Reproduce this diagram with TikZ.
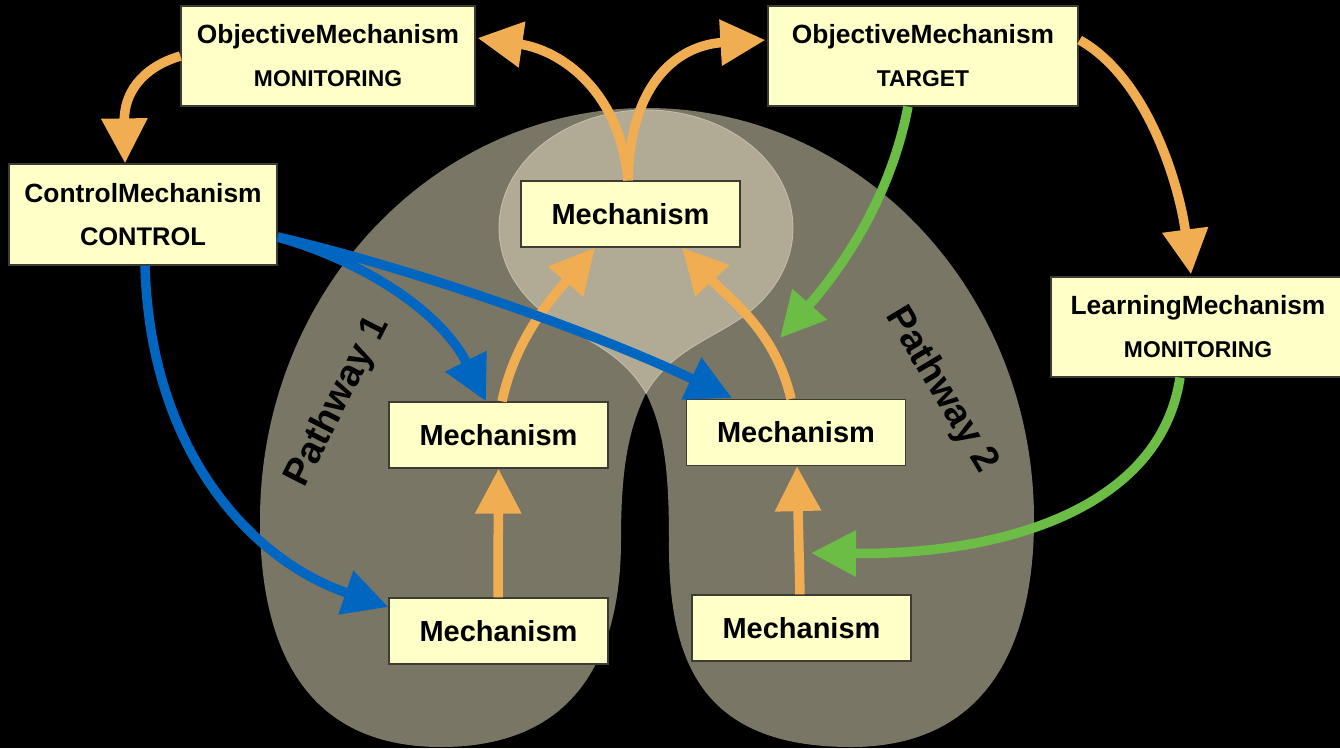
\documentclass[tikz,border=0pt]{standalone}
\usepackage{fontspec}
\setmainfont{Liberation Sans}
\usetikzlibrary{arrows.meta}
\definecolor{bgdark}{RGB}{122,118,102}
\definecolor{bglight}{RGB}{177,171,149}
\definecolor{bgedge}{RGB}{196,190,168}
\definecolor{boxfill}{RGB}{255,255,200}
\definecolor{boxline}{RGB}{60,60,50}
\definecolor{orangearr}{RGB}{240,173,82}
\definecolor{bluearr}{RGB}{0,102,192}
\definecolor{greenarr}{RGB}{108,189,69}
\begin{document}
\begin{tikzpicture}[x=0.02cm,y=0.02cm,
  mbox/.style={draw=boxline, line width=0.7pt, fill=boxfill, minimum width=4.38cm, minimum height=1.32cm, inner sep=0pt, font=\fontsize{16.5}{20}\selectfont\bfseries},
  tbox/.style={draw=boxline, line width=0.7pt, fill=boxfill, minimum height=2cm, inner sep=0pt, align=center, font=\fontsize{15}{24.5}\selectfont\bfseries},
  flow/.style={line width=0.19cm, -{Triangle[length=0.9cm,width=0.88cm]}},
  orangeflow/.style={flow, draw=orangearr},
  blueflow/.style={flow, draw=bluearr},
  greenflow/.style={flow, draw=greenarr},
  pathlabel/.style={font=\fontsize{21.5}{26}\selectfont\bfseries, text=black}]
\useasboundingbox (0,0) rectangle (1340,-748);
\clip (0,0) rectangle (1340,-748);
\fill[black] (0,0) rectangle (1340,-748);

% horseshoe
\fill[bgdark] (646,-393) .. controls (628,-430) and (621,-470) .. (621,-540)
  .. controls (621,-650) and (580,-747) .. (441,-747)
  .. controls (300,-747) and (260,-640) .. (260,-520)
  arc[start angle=180,end angle=0,x radius=387,y radius=412]
  .. controls (1034,-640) and (990,-747) .. (851,-747)
  .. controls (700,-747) and (668,-660) .. (669,-540)
  .. controls (669,-470) and (664,-430) .. (646,-393) -- cycle;
% light top region
\fill[bglight, draw=bgedge, line width=0.5pt] (646,-393) .. controls (622,-352) and (585,-340) .. (551.5,-318.4)
  arc[start angle=230,end angle=-50,x radius=147,y radius=118]
  .. controls (707,-341) and (670,-352) .. (646,-393) -- cycle;

% boxes
\node[tbox, minimum width=5.88cm] (objmon) at (328,-56) {ObjectiveMechanism\\{\fontsize{13}{24.5}\selectfont MONITORING}};
\node[tbox, minimum width=5.36cm, minimum height=2.02cm] (ctrl) at (143,-214.5) {ControlMechanism\\{\fontsize{14.5}{24.5}\selectfont CONTROL}};
\node[tbox, minimum width=6.2cm] (objtgt) at (923,-56) {ObjectiveMechanism\\{\fontsize{13}{24.5}\selectfont TARGET}};
\node[tbox, minimum width=5.88cm] (learn) at (1198,-327) {LearningMechanism\\{\fontsize{13}{24.5}\selectfont MONITORING}};

\node[mbox] (mtop) at (630.5,-214) {Mechanism};
\node[mbox] (mml) at (498.5,-435) {Mechanism};
\node[mbox] (mmr) at (796,-432.5) {Mechanism};
\node[mbox] (mbl) at (498.5,-631) {Mechanism};
\node[mbox] (mbr) at (801.5,-628) {Mechanism};

% pathway labels
\node[pathlabel, rotate=63] (p1) at (338,-402) {Pathway 1};
\node[pathlabel, rotate=-59] (p2) at (941,-390) {Pathway 2};

% free ends
\coordinate (gtip) at (780,-338);
\coordinate (ltip) at (811,-553);

% orange arrows
\draw[orangeflow] (objmon.west) .. controls (140,-68) and (124,-95) .. ([shift={(-18,0)}]ctrl.north);
\draw[orangeflow] ([shift={(-2.5,0)}]mtop.north) .. controls (620,-90) and (560,-50) .. ([shift={(2,18)}]objmon.east);
\draw[orangeflow] ([shift={(-2.5,0)}]mtop.north) .. controls (630,-80) and (680,-45) .. ([shift={(-2,16)}]objtgt.west);
\draw[orangeflow] ([shift={(1,16)}]objtgt.east) .. controls (1150,-80) and (1180,-190) .. ([shift={(-7,2)}]learn.north);
\draw[orangeflow] ([shift={(3.5,0)}]mml.north) .. controls (515,-340) and (550,-300) .. ([shift={(-35.5,0)}]mtop.south);
\draw[orangeflow] ([shift={(-5,0)}]mmr.north) .. controls (775,-330) and (730,-300) .. ([shift={(51.5,0)}]mtop.south);
\draw[orangeflow] ([shift={(-0.5,0)}]mbl.north) -- (mml.south);
\draw[orangeflow] ([shift={(-1.5,0)}]mbr.north) -- ([shift={(1,0)}]mmr.south);

% blue arrows
\draw[blueflow] ([shift={(2,0)}]ctrl.south) .. controls (150,-450) and (250,-560) .. ([shift={(0,24)}]mbl.west);
\draw[blueflow] ([shift={(0,-22.5)}]ctrl.east) .. controls (360,-260) and (440,-310) .. ([shift={(-12.5,0)}]mml.north);
\draw[blueflow] ([shift={(0,-22.5)}]ctrl.east) .. controls (420,-270) and (600,-335) .. ([shift={(-64,1)}]mmr.north);

% green arrows
\draw[greenflow] ([shift={(-15,0)}]objtgt.south) .. controls (890,-200) and (840,-270) .. (gtip);
\draw[greenflow] ([shift={(-18,0)}]learn.south) .. controls (1160,-510) and (1000,-555) .. (ltip);
\end{tikzpicture}
\end{document}
